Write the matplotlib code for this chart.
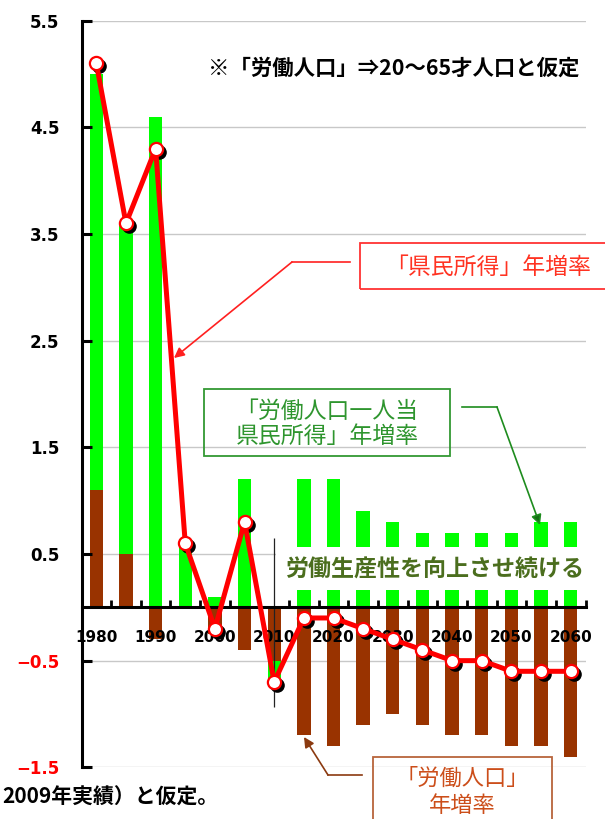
import numpy as np
import matplotlib
matplotlib.use('Agg')
import matplotlib.pyplot as plt
from matplotlib.patches import Rectangle
from matplotlib.lines import Line2D
from matplotlib import transforms

plt.rcParams['font.family'] = ['DejaVu Sans']
JP = ['Noto Sans CJK JP', 'DejaVu Sans']

W, H = 605, 819

# --- data ---
years = list(range(1980, 2061, 5))
labor = [1.1, 0.5, -0.3, 0.0, -0.25, -0.4, -0.5, -1.2, -1.3, -1.1, -1.0,
         -1.1, -1.2, -1.2, -1.3, -1.3, -1.4]          # 「労働人口」年増率
per_worker = [3.9, 3.1, 4.6, 0.6, 0.1, 1.2, -0.2, 1.2, 1.2, 0.9, 0.8,
              0.7, 0.7, 0.7, 0.7, 0.8, 0.8]           # 労働人口一人当県民所得 年増率
income = [5.1, 3.6, 4.3, 0.6, -0.2, 0.8, -0.7, -0.1, -0.1, -0.2, -0.3,
          -0.4, -0.5, -0.5, -0.6, -0.6, -0.6]         # 「県民所得」年増率
ytick_vals = [-1.5, -0.5, 0.5, 1.5, 2.5, 3.5, 4.5, 5.5]
xtick_years = list(range(1980, 2061, 10))

x = np.arange(len(years))
labor = np.array(labor)
per_worker = np.array(per_worker)
# green stacks on the brown bar when both have the same sign
green_bottom = np.where(np.sign(labor) == np.sign(per_worker), labor, 0.0)

fig = plt.figure(figsize=(W / 100, H / 100), dpi=100)
ax = fig.add_axes([81.5 / W, (H - 767.3) / H, 504 / W, 746.6 / H])
ax.set_xlim(-0.5, len(years) - 0.5)
ax.set_ylim(-1.5, 5.5)

for v in ytick_vals:
    ax.axhline(v, color='#C8C8C8', lw=1.0, zorder=0.5)

bw = 0.45
ax.bar(x, labor, width=bw, color='#993300', zorder=1)
ax.bar(x, per_worker, width=bw, bottom=green_bottom, color='#00FF00', zorder=1)

# line with shadowed markers
shadow = transforms.offset_copy(ax.transData, fig=fig, x=3, y=-3, units='dots')
ax.plot(x, income, 'o', ms=9.5, color='black', transform=shadow, zorder=3)
ax.plot(x, income, '-', color='#FF0000', lw=3.6, zorder=4)
ax.plot(x, income, 'o', ms=9.5, mfc='white', mec='#FF0000', mew=1.6, zorder=5)

# divider at 2010
ax.vlines(years.index(2010), -0.93, 0.65, color='#222222', lw=0.9, zorder=2)

# axes styling
for s in ['top', 'right']:
    ax.spines[s].set_visible(False)
ax.spines['left'].set_linewidth(2.2)
ax.spines['bottom'].set_position(('data', 0))
ax.spines['bottom'].set_linewidth(2.2)
ax.set_axisbelow(False)

ax.set_yticks(ytick_vals)
ax.set_yticklabels([('\u2212' if v < 0 else '') + f'{abs(v):.1f}' for v in ytick_vals],
                   fontsize=12, fontweight='bold')
for lbl, v in zip(ax.get_yticklabels(), ytick_vals):
    lbl.set_color('#FF0000' if v < 0 else 'black')
ax.tick_params(axis='y', direction='in', length=7, width=2.2, pad=16)

ax.set_xticks(np.arange(-0.5, len(years), 1.0))
ax.set_xticklabels([])
ax.tick_params(axis='x', which='major', direction='in', length=5, width=2)
ax.set_xticks([years.index(yr) for yr in xtick_years], minor=True)
ax.set_xticklabels([str(yr) for yr in xtick_years], minor=True,
                   fontsize=11, fontweight='bold')
ax.tick_params(axis='x', which='minor', length=0, pad=16)


# --- annotations (figure pixel helpers) ---
def fx(px):
    return px / W


def fy(py):
    return 1 - py / H


def box(x0, y0, x1, y1, ec, lw=1.3):
    fig.patches.append(Rectangle((fx(x0), fy(y1)), (x1 - x0) / W, (y1 - y0) / H,
                                 transform=fig.transFigure, fill=False, ec=ec, lw=lw, zorder=4))


def bent_arrow(p0, p1, tip, color, head):
    fig.add_artist(Line2D([fx(p0[0]), fx(p1[0])], [fy(p0[1]), fy(p1[1])],
                          transform=fig.transFigure, color=color, lw=1.2, zorder=4))
    ax.annotate('', xy=(fx(tip[0]), fy(tip[1])), xycoords='figure fraction',
                xytext=(fx(p1[0]), fy(p1[1])), textcoords='figure fraction',
                annotation_clip=False,
                arrowprops=dict(arrowstyle='-|>', color=color, fc=head, lw=1.2,
                                mutation_scale=15, shrinkA=0, shrinkB=0), zorder=6)


fig.text(fx(394), fy(68), '※「労働人口」⇒20〜65才人口と仮定', family=JP,
         fontsize=15.4, fontweight='bold', ha='center', va='center', color='black')

# red: income growth
box(360, 243, 612, 289, '#FF3333')
fig.text(fx(488), fy(267), '「県民所得」年増率', family=JP, fontsize=16.5,
         ha='center', va='center', color='#FF3322')
bent_arrow((350, 262), (292, 262), (174, 358), '#FF2020', '#FF2020')

# green: per-worker income growth
box(204, 389, 450, 456, '#339933')
fig.text(fx(327), fy(424), '「労働人口一人当\n県民所得」年増率', family=JP, fontsize=16.5,
         ha='center', va='center', color='#2E952E', linespacing=1.15)
bent_arrow((462, 407), (497, 407), (540, 525), '#1E8C1E', '#157015')

# productivity band
fig.patches.append(Rectangle((fx(276), fy(590)), (592 - 276) / W, 43 / H,
                             transform=fig.transFigure, fc='white', ec='none', zorder=2))
fig.text(fx(435), fy(570), '労働生産性を向上させ続ける', family=JP, fontsize=16.6,
         fontweight='bold', ha='center', va='center', color='#4B6E1E', zorder=3)

# brown: labour population growth
box(373, 757, 552, 830, '#B8643C')
fig.text(fx(462), fy(792), '「労働人口」\n年増率', family=JP, fontsize=16,
         ha='center', va='center', color='#CC4E1A', linespacing=1.2)
bent_arrow((362, 775), (328, 775), (304, 737), '#8B3A10', '#8B3A10')

fig.text(fx(2), fy(797), '2009年実績）と仮定。', family=JP, fontsize=15,
         fontweight='bold', ha='left', va='center', color='black')

fig.savefig('out.png', dpi=100)
